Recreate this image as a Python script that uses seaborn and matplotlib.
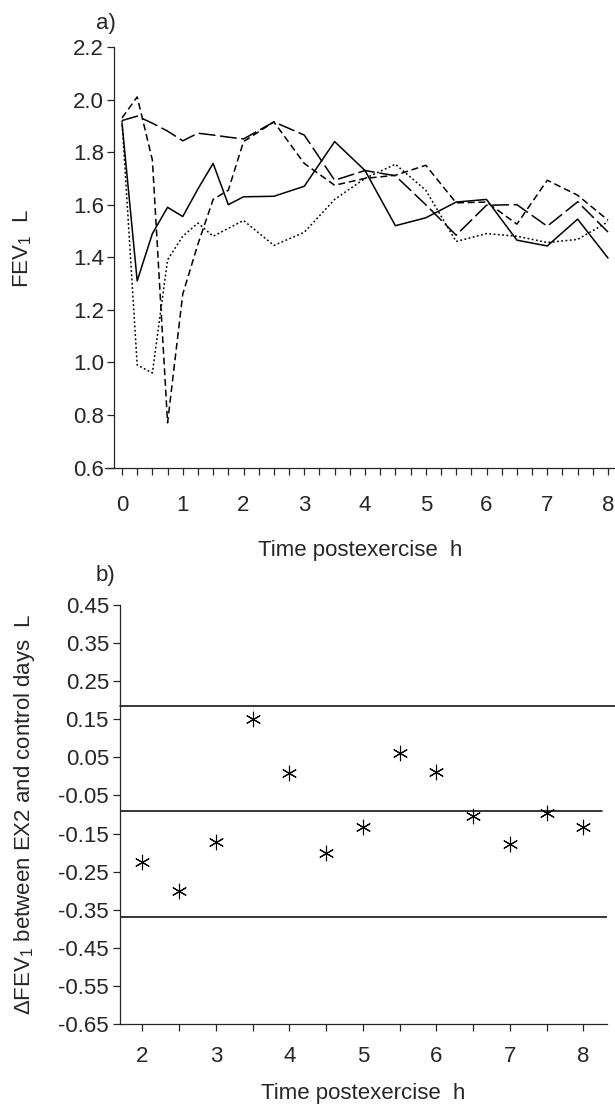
import matplotlib
matplotlib.use("Agg")
import matplotlib.pyplot as plt
import seaborn as sns
import pandas as pd
import numpy as np

# panel a: FEV1 over time, four subjects
time_a = [0, 0.25, 0.5, 0.75, 1, 1.25, 1.5, 1.75, 2, 2.5, 3, 3.5, 4, 4.5, 5, 5.5, 6, 6.5, 7, 7.5, 8]
solid = [1.91, 1.31, 1.49, 1.59, 1.555, 1.66, 1.757, 1.60, 1.63, 1.632, 1.67, 1.84, 1.73, 1.52, 1.55, 1.61, 1.62, 1.465, 1.443, 1.545, 1.397]
dotted = [1.92, 0.99, 0.96, 1.39, 1.48, 1.53, 1.48, 1.51, 1.54, 1.445, 1.495, 1.62, 1.70, 1.754, 1.655, 1.46, 1.49, 1.48, 1.456, 1.468, 1.535]
dashed = [1.93, 2.01, 1.77, 0.77, 1.26, 1.45, 1.62, 1.655, 1.84, 1.915, 1.757, 1.674, 1.70, 1.712, 1.75, 1.607, 1.61, 1.526, 1.693, 1.636, 1.541]
longdash = [1.92, 1.937, 1.91, 1.88, 1.843, 1.872, 1.865, 1.857, 1.85, 1.915, 1.865, 1.693, 1.73, 1.71, 1.60, 1.484, 1.598, 1.60, 1.518, 1.611, 1.496]

# panel b: difference EX2 - control with mean and limits of agreement
time_b = [2, 2.5, 3, 3.5, 4, 4.5, 5, 5.5, 6, 6.5, 7, 7.5, 8]
delta = [-0.224, -0.30, -0.171, 0.150, 0.008, -0.202, -0.133, 0.062, 0.011, -0.104, -0.177, -0.097, -0.134]
mean_diff = -0.092
upper_lim = 0.185
lower_lim = -0.368

yticks_a = ["0.6", "0.8", "1.0", "1.2", "1.4", "1.6", "1.8", "2.0", "2.2"]
yticks_b = ["-0.65", "-0.55", "-0.45", "-0.35", "-0.25", "-0.15", "-0.05", "0.05", "0.15", "0.25", "0.35", "0.45"]

sns.set_style("ticks")
plt.rcParams["font.family"] = ["Liberation Sans", "DejaVu Sans"]
plt.rcParams["mathtext.fontset"] = "custom"
plt.rcParams["mathtext.rm"] = "Liberation Sans"
plt.rcParams["mathtext.default"] = "regular"
plt.rcParams["axes.linewidth"] = 0.9
plt.rcParams["xtick.major.width"] = 0.9
plt.rcParams["ytick.major.width"] = 0.9
plt.rcParams["xtick.major.size"] = 5
plt.rcParams["ytick.major.size"] = 5

FS = 16

fig = plt.figure(figsize=(6.15, 11.08), dpi=100)

# ---- panel a ----
ax1 = fig.add_axes([105 / 615, 1 - 467.5 / 1108, 510 / 615, 420.5 / 1108])
n = len(time_a)
df = pd.DataFrame({
    "time": time_a * 4,
    "fev1": solid + dotted + dashed + longdash,
    "subject": ["solid"] * n + ["dotted"] * n + ["dashed"] * n + ["longdash"] * n,
})
dash_map = {"solid": "", "dotted": (1.2, 1.6), "dashed": (4.5, 2.5), "longdash": (11, 3)}
sns.lineplot(data=df, x="time", y="fev1", style="subject", dashes=dash_map,
             color="black", linewidth=1.1, legend=False, ax=ax1, sort=False)

ax1.set_xlim(-0.28, 8.115)
ax1.set_ylim(0.6, 2.2)
ax1.spines["left"].set_position(("data", -0.14))
sns.despine(ax=ax1)
qt = np.arange(0, 8.01, 0.25)
ax1.set_xticks(qt)
ax1.set_xticklabels([str(int(t)) if t == int(t) else "" for t in qt], fontsize=FS)
ax1.set_yticks(np.arange(0.6, 2.21, 0.2))
ax1.set_yticklabels(yticks_a, fontsize=FS)
ax1.tick_params(axis="x", pad=15)
ax1.tick_params(axis="y", pad=2)
ax1.set_xlabel("Time postexercise  h", fontsize=FS, labelpad=17)
ax1.set_ylabel("FEV$_1$  L", fontsize=FS)
ax1.yaxis.set_label_coords(-0.14, 0.52)
fig.text(96 / 615, 1 - 24 / 1108, "a)", fontsize=FS, ha="left", va="center")

# ---- panel b ----
ax2 = fig.add_axes([120 / 615, 1 - 1024 / 1108, 487 / 615, 419 / 1108])
sns.scatterplot(x=time_b, y=delta, marker=(6, 2, 0), s=110, color="black",
                linewidth=0.8, ax=ax2, legend=False)
ax2.axhline(upper_lim, xmin=0, xmax=1.017, color="black", lw=1.1, clip_on=False)
ax2.axhline(mean_diff, xmin=0, xmax=0.989, color="black", lw=1.1)
ax2.axhline(lower_lim, xmin=0, xmax=1.0, color="black", lw=1.1)

ax2.set_xlim(1.697, 8.32)
ax2.set_ylim(-0.65, 0.45)
sns.despine(ax=ax2)
ht = np.arange(2, 8.01, 0.5)
ax2.set_xticks(ht)
ax2.set_xticklabels([str(int(t)) if t == int(t) else "" for t in ht], fontsize=FS)
ax2.set_yticks(np.linspace(-0.65, 0.45, 12))
ax2.set_yticklabels(yticks_b, fontsize=FS)
ax2.tick_params(axis="x", pad=11)
ax2.tick_params(axis="y", pad=3)
ax2.set_xlabel("Time postexercise  h", fontsize=FS, labelpad=11)
ax2.set_ylabel("ΔFEV$_1$ between EX2 and control days  L", fontsize=FS)
ax2.yaxis.set_label_coords(-0.17, 0.5)
fig.text(96 / 615, 1 - 576 / 1108, "b)", fontsize=FS, ha="left", va="center")

fig.savefig("out.png", dpi=100)
